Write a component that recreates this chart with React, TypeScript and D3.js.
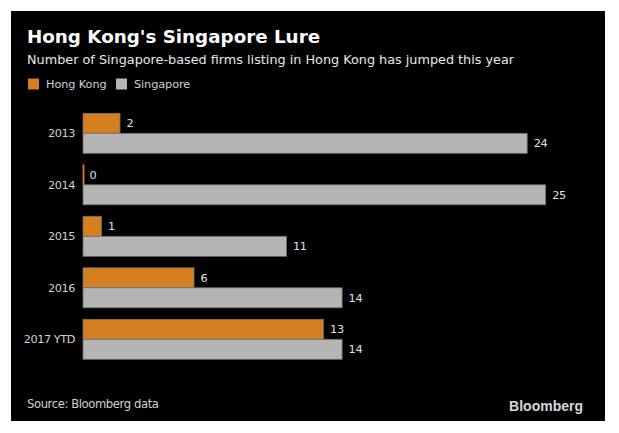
import * as d3 from "d3";

const width = 619;
const height = 433;
const panel = { x: 11, y: 11, w: 594, h: 410 };
const margin = { top: 113.3, bottom: 359.3, left: 83, right: 545.7 };

const categories = ["2013", "2014", "2015", "2016", "2017 YTD"];
const hongKong = [2, 0, 1, 6, 13];
const singapore = [24, 25, 11, 14, 14];
const seriesNames = ["Hong Kong", "Singapore"];
const colors = ["#d67f21", "#b5b5b5"];

const font = "'DejaVu Sans', Verdana, sans-serif";

const App = () => {
  const x = d3.scaleLinear().domain([0, 25]).range([margin.left, margin.right]);
  const y = d3
    .scaleBand<string>()
    .domain(categories)
    .range([margin.top, margin.bottom])
    .paddingInner(0.223)
    .paddingOuter(0);
  const sub = d3
    .scaleBand<string>()
    .domain(seriesNames)
    .range([0, y.bandwidth()]);

  const series = [hongKong, singapore];

  return (
    <svg
      width={width}
      height={height}
      style={{ position: "absolute", left: 0, top: 0 }}
      fontFamily={font}
    >
      <rect width={width} height={height} fill="#fff" />
      <rect x={panel.x} y={panel.y} width={panel.w} height={panel.h} fill="#000" />

      <text x={27} y={43} fill="#fff" fontSize={18.3} fontWeight="bold">
        Hong Kong's Singapore Lure
      </text>
      <text x={27} y={63.5} fill="#e8e8e8" fontSize={12.8}>
        Number of Singapore-based firms listing in Hong Kong has jumped this year
      </text>

      {/* legend */}
      <g>
        <rect x={28} y={78.5} width={11} height={11} fill={colors[0]} />
        <text x={46} y={88} fill="#d0d0d0" fontSize={11.3} letterSpacing={-0.1}>
          Hong Kong
        </text>
        <rect x={116} y={78.5} width={11} height={11} fill={colors[1]} />
        <text x={134} y={88} fill="#d0d0d0" fontSize={11.3} letterSpacing={-0.1}>
          Singapore
        </text>
      </g>

      {categories.map((c, i) => (
        <g key={c}>
          <text
            x={75}
            y={(y(c) as number) + y.bandwidth() / 2}
            dy="0.35em"
            textAnchor="end"
            fill="#d0d0d0"
            fontSize={11.3}
            letterSpacing={-0.45}
          >
            {c}
          </text>
          {series.map((vals, s) => {
            const by = (y(c) as number) + (sub(seriesNames[s]) as number);
            const w = x(vals[i]) - x(0);
            return (
              <g key={s}>
                <rect
                  x={x(0)}
                  y={by}
                  width={Math.max(w, 1)}
                  height={sub.bandwidth()}
                  fill={colors[s]}
                  stroke={w < 1 ? colors[s] : "#6e6e6e"}
                  strokeWidth={0.8}
                />
                <text
                  x={x(vals[i]) + 6.5}
                  y={by + sub.bandwidth() / 2}
                  dy="0.35em"
                  fill="#e0e0e0"
                  fontSize={11.3}
                  letterSpacing={-0.4}
                >
                  {vals[i]}
                </text>
              </g>
            );
          })}
        </g>
      ))}

      <text x={27} y={408} fill="#d0d0d0" fontSize={11.6} letterSpacing={-0.4}>
        Source: Bloomberg data
      </text>
      <text
        x={583}
        y={411}
        textAnchor="end"
        fill="#d8d8d8"
        fontSize={14}
        fontWeight="bold"
        fontFamily="'Liberation Sans', Arial, sans-serif"
      >
        Bloomberg
      </text>
    </svg>
  );
};

export default App;
